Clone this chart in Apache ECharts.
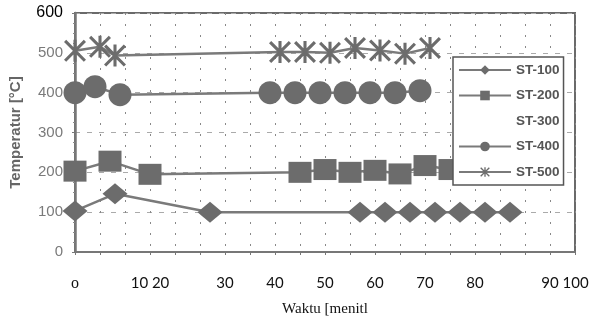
<!DOCTYPE html>
<html>
<head>
<meta charset="UTF-8">
<title>Temperatur vs Waktu</title>
<script src="https://cdn.jsdelivr.net/npm/echarts@6/dist/echarts.min.js"></script>
</head>
<body style="margin:0;background:#fff">
<div id="main" style="width:600px;height:322px;"></div>
<script type="text/javascript">
// data (x = menit, y = °C)
var st100X = [0, 8, 27, 57, 62, 67, 72, 77, 82, 87];
var st100Y = [103, 146, 100, 100, 100, 100, 100, 100, 100, 100];
var st200X = [0, 7, 15, 45, 50, 55, 60, 65, 70, 75];
var st200Y = [203, 228, 195, 200, 207, 200, 205, 196, 217, 207];
var st400X = [0, 4, 9, 39, 44, 49, 54, 59, 64, 69];
var st400Y = [400, 415, 395, 400, 400, 400, 400, 400, 400, 405];
var st500X = [0, 5, 8, 41, 46, 51, 56, 61, 66, 71];
var st500Y = [505, 515, 493, 502, 502, 500, 512, 506, 498, 512];
var seriesNames = ['ST-100', 'ST-200', 'ST-300', 'ST-400', 'ST-500'];
// bottom labels as they appear (misplaced in the scan)
var xLabelPos = [0, 15, 30, 40, 50, 60, 70, 80, 98];
var xLabelText = ['o', '10 20', '30', '40', '50', '60', '70', '80', '90 100'];

function pairs(xs, ys) {
    var out = [];
    for (var i = 0; i < xs.length; i++) out.push([xs[i], ys[i]]);
    return out;
}

// asterisk marker: vertical bar + X
var star = 'path://M43 0L57 0L57 100L43 100Z M10 0L100 90L90 100L0 10Z M90 0L100 10L10 100L0 90Z';
var grey = '#6c6c6c';

var myChart = echarts.init(document.getElementById('main'));

function mkSeries(name, data, symbol, size) {
    return {
        name: name,
        type: 'line',
        data: data,
        symbol: symbol,
        symbolSize: size,
        xAxisIndex: 0,
        lineStyle: { color: '#7a7a7a', width: 2.5 },
        itemStyle: { color: grey, opacity: 1 },
        animation: false
    };
}

var option = {
    backgroundColor: '#fff',
    grid: {
        left: 75, right: 25, top: 13, bottom: 65,
        show: true, borderColor: '#6a6a6a', borderWidth: 2
    },
    legend: {
        orient: 'vertical',
        left: 453, top: 57,
        padding: [6, 4, 6, 5],
        itemWidth: 52, itemHeight: 12, itemGap: 11.5,
        backgroundColor: '#fff',
        borderColor: '#555', borderWidth: 1.5,
        textStyle: { fontFamily: 'Liberation Sans', fontWeight: 'bold', fontSize: 13.5, color: '#555' },
        data: seriesNames
    },
    xAxis: [
        {
            type: 'value', min: 0, max: 100, interval: 5,
            axisLine: { show: true, lineStyle: { color: '#777', width: 2 } },
            axisTick: { show: true, length: 3, lineStyle: { color: '#777' } },
            axisLabel: { show: false },
            splitLine: { show: true, lineStyle: { color: '#888', type: [2, 9], width: 1 } },
            name: 'Waktu [menitl',
            nameLocation: 'middle',
            nameGap: 50,
            nameTextStyle: { fontFamily: 'Liberation Serif', fontSize: 15, color: '#111' }
        },
        {
            type: 'value', min: 0, max: 100, interval: 1,
            position: 'bottom',
            axisLine: { show: false },
            axisTick: { show: false },
            splitLine: { show: false },
            axisLabel: {
                margin: 24,
                fontFamily: 'Lato',
                fontSize: 15,
                color: '#111',
                formatter: function (v) {
                    var i = xLabelPos.indexOf(Math.round(v));
                    if (i < 0) return '';
                    if (xLabelText[i] === 'o') return '{o|o}';
                    return xLabelText[i];
                },
                rich: { o: { fontFamily: 'Liberation Serif', fontSize: 16, color: '#111' } }
            }
        }
    ],
    yAxis: {
        type: 'value', min: 0, max: 600, interval: 100,
        name: 'Temperatur [°C]',
        nameLocation: 'middle',
        nameGap: 52,
        nameTextStyle: { fontFamily: 'Liberation Sans', fontWeight: 'bold', fontSize: 15, color: '#666' },
        axisLine: { show: true, lineStyle: { color: '#777', width: 2.5 } },
        axisTick: { show: true, length: 3, lineStyle: { color: '#777' } },
        minorTick: { show: true, splitNumber: 4, length: 2, lineStyle: { color: '#888' } },
        axisLabel: {
            margin: 12,
            fontFamily: 'Liberation Sans',
            fontSize: 15,
            color: '#7a7a7a',
            formatter: function (v) { return v === 600 ? '{top|600}' : String(v); },
            rich: { top: { fontFamily: 'Liberation Sans', fontSize: 16, color: '#000' } }
        },
        splitLine: { show: true, lineStyle: { color: '#aaa', type: [5, 7], width: 1 } }
    },
    series: [
        mkSeries('ST-100', pairs(st100X, st100Y), 'diamond', [25, 21]),
        mkSeries('ST-200', pairs(st200X, st200Y), 'rect', [23, 21]),
        {
            name: 'ST-300', type: 'line', data: [], symbol: 'none',
            lineStyle: { opacity: 0 }, itemStyle: { opacity: 0 }
        },
        mkSeries('ST-400', pairs(st400X, st400Y), 'circle', 23),
        mkSeries('ST-500', pairs(st500X, st500Y), star, 22)
    ]
};

myChart.setOption(option);
</script>
</body>
</html>
